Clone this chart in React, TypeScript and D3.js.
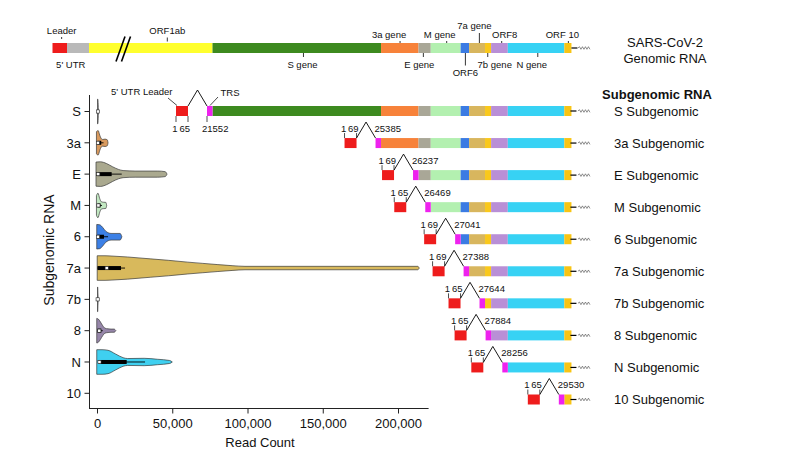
import React from "react";
import * as d3 from "d3";

// ---------------- Genome annotation (nucleotide coordinates) ----------------
const upstreamNames = ["Leader", "5' UTR", "ORF1ab"];
const upstreamStarts = [1, 66, 266];
const upstreamColors = ["#ee1c1c", "#b9b9b9", "#ffff2e"];

const geneNames = ["S", "3a", "E", "M", "ORF6", "7a", "7b", "ORF8", "N", "ORF10"];
const geneStarts = [21563, 25393, 26245, 26523, 27202, 27394, 27756, 27894, 28274, 29558];
const genomeEnd = 29720;
const geneColors = ["#3d8a1f", "#f7823a", "#a9a797", "#b3f0b0", "#3b7be3", "#d8b65e", "#f9c81c", "#b98fd6", "#37d2f4", "#f8c414"];
const trsColor = "#ee22ee";
const leaderColor = "#ee1c1c";

// genomic label annotations: text, anchor nt, side
const annotTexts = ["Leader", "5' UTR", "ORF1ab", "S gene", "3a gene", "E gene", "M gene", "7a gene", "ORF6", "7b gene", "ORF8", "N gene", "ORF 10"];
const annotAt = [42, 100, 13770, 23630, 25825, 26355, 26885, 27628, 27310, 27818, 28135, 28955, 29650];
const annotSide = ["up", "down", "up", "down", "up", "down", "up", "up", "down", "down", "up", "down", "up"];
const annotLevel = [0, 0, 0, 0, 1, 0, 1, 2, 1, 0, 1, 0, 1];
const annotDx = [0, 0, 0, -1, -11, -4, -7, -5, 0, 7, 3, -6, -6];
const annotTick = [true, false, true, true, true, true, true, true, true, true, true, true, true];
const annotTickGap = [4, 0, 1.5, 0, 0, 0, 0, 0, 0, 0, 0, 0, 0];

// ---------------- Subgenomic RNA rows ----------------
const subCategories = ["S", "3a", "E", "M", "6", "7a", "7b", "8", "N", "10"];
const subStartGene = [0, 1, 2, 3, 4, 5, 6, 7, 8, 9];
const subLeaderEnd = ["65", "69", "69", "65", "69", "69", "65", "65", "65", "65"];
const subTrsPos = ["21552", "25385", "26237", "26469", "27041", "27388", "27644", "27884", "28256", "29530"];

// ---------------- Violin data (read count vs relative density) ----------------
const violinCategories = ["S", "3a", "E", "M", "6", "7a", "7b", "8", "N", "10"];
const violinColors = ["#b0b0b0", "#d99a5e", "#aaa98f", "#c2e8c2", "#3c80e6", "#d8b95c", "#b0b0b0", "#9686a9", "#3fd0f0", "#b0b0b0"];
const violinProfiles: [number, number][][] = [
  [[0, 1.0], [250, 1.0], [450, 0.6], [650, 0]],
  [[-700, 0.9], [400, 1.0], [1500, 0.62], [2500, 0.34], [3500, 0.27], [5000, 0.3], [6500, 0.24], [7000, 0]],
  [[-1000, 0.98], [2000, 1.0], [6000, 0.86], [10000, 0.6], [14000, 0.38], [17000, 0.29], [25000, 0.25], [40000, 0.25], [45000, 0.2], [46200, 0]],
  [[-700, 0.8], [300, 1.0], [1500, 0.55], [2500, 0.3], [4000, 0.26], [5500, 0.25], [6100, 0]],
  [[-500, 1.0], [1500, 0.97], [3500, 0.75], [5500, 0.45], [7200, 0.32], [9000, 0.27], [15000, 0.27], [16200, 0]],
  [[-200, 1.0], [5000, 1.0], [9000, 0.98], [20000, 0.9], [35000, 0.75], [47000, 0.63], [60000, 0.48], [70000, 0.38], [80000, 0.28], [90000, 0.19], [98000, 0.14], [212800, 0.14], [213800, 0]],
  [[0, 1.0], [150, 1.0], [300, 0.5], [450, 0]],
  [[-500, 1.0], [500, 0.95], [2000, 0.7], [3500, 0.4], [5000, 0.2], [7000, 0.15], [9000, 0.13], [11000, 0.13], [12200, 0]],
  [[-500, 1.0], [3000, 1.0], [7000, 0.95], [12000, 0.65], [17000, 0.35], [20000, 0.28], [31000, 0.3], [40000, 0.22], [48000, 0.12], [49700, 0]],
  [],
];
const boxLow = [null, 0, 0, 0, 0, 0, null, 0, 500, null];
const boxHigh = [null, 2500, 9400, 2000, 4300, 15600, null, 2500, 19400, null];
const whiskerHigh = [null, 4000, 16100, 3000, 7000, 18300, null, 3500, 31600, null];
const medians = [300, 300, 500, 600, 300, 6100, 100, 1200, 1300, null];

const xTicks = [0, 50000, 100000, 150000, 200000];

const FONT = "'Liberation Sans', Arial, Helvetica, sans-serif";

function zigzag(x0: number, cy: number) {
  let d = `M${x0},${cy}`;
  for (let i = 1; i <= 8; i++) d += ` L${x0 + i * 1.5},${cy + (i % 2 ? -1.3 : 1.3)}`;
  return d;
}

export default function App() {
  const xG = d3.scaleLinear().domain([1, 66, 266, 21563, 29903]).range([52.5, 67, 89, 212.5, 579.5]);
  const genomeY = 48;
  const barH = 10;

  const xV = d3.scaleLinear().domain([0, 200000]).range([97.5, 398.5]);
  const axisEnd = xV(220000);
  const yV = d3.scalePoint<string>().domain(violinCategories).range([111.5, 393.3]);
  const maxHalf = 12.3;
  const yS = d3.scalePoint<string>().domain(subCategories).range([111, 399.5]);

  const allStarts = [...upstreamStarts, ...geneStarts];
  const allColors = [...upstreamColors, ...geneColors];
  const allEnds = [...allStarts.slice(1), genomeEnd];

  const tailX = xG(genomeEnd);
  const fmt = d3.format(",");

  return (
    <svg width={790} height={463} style={{ position: "absolute", left: 0, top: 0, background: "#fff" }} fontFamily={FONT}>
      {/* ---------- Genomic RNA ---------- */}
      <g>
        {allStarts.map((s, i) => (
          <rect key={i} x={xG(s)} y={genomeY - barH / 2} width={xG(allEnds[i]) - xG(s)} height={barH} fill={allColors[i]} />
        ))}
        <line x1={116} y1={61.5} x2={125} y2={36.5} stroke="#000" strokeWidth={1.6} />
        <line x1={121.5} y1={61.5} x2={130.5} y2={36.5} stroke="#000" strokeWidth={1.6} />
        <line x1={tailX} y1={genomeY} x2={tailX + 6} y2={genomeY} stroke="#000" strokeWidth={1.2} />
        <path d={zigzag(tailX + 6.5, genomeY)} fill="none" stroke="#444" strokeWidth={0.6} />
        {annotTexts.map((t, i) => {
          const tx = xG(annotAt[i]);
          const up = annotSide[i] === "up";
          const textY = up ? [33.5, 37.5, 29][annotLevel[i]] : [67.5, 76][annotLevel[i]];
          const tickEnd = up ? textY + 3 : textY - 9.5;
          const y1 = up ? genomeY - barH / 2 - annotTickGap[i] : genomeY + barH / 2;
          const y2 = up ? Math.min(tickEnd + 1, genomeY - 7 - annotTickGap[i]) : Math.max(tickEnd - 1, genomeY + 8);
          return (
            <g key={t}>
              {annotTick[i] && <line x1={tx} x2={tx} y1={y1} y2={y2} stroke="#000" strokeWidth={0.8} />}
              <text x={tx + annotDx[i]} y={textY} fontSize={9.5} textAnchor="middle" fill="#111">{t}</text>
            </g>
          );
        })}
        <text x={665} y={46.5} fontSize={13} textAnchor="middle" fill="#111">SARS-CoV-2</text>
        <text x={665} y={62.5} fontSize={13} textAnchor="middle" fill="#111">Genomic RNA</text>
      </g>

      {/* ---------- Subgenomic rows ---------- */}
      <text x={657} y={98.5} fontSize={13} fontWeight="bold" textAnchor="middle" fill="#111">Subgenomic RNA</text>
      {subCategories.map((c, r) => {
        const cy = yS(c)!;
        const gi = subStartGene[r];
        const gx = xG(geneStarts[gi]);
        const magL = gx - 5.5;
        const redR = magL - 19;
        const redL = redR - 12;
        const below = r === 0;
        const top = cy - barH / 2;
        const bot = cy + barH / 2;
        const segs = geneStarts.slice(gi).map((s, k) => {
          const idx = gi + k;
          const e = idx + 1 < geneStarts.length ? geneStarts[idx + 1] : genomeEnd;
          return <rect key={idx} x={xG(s)} y={top} width={xG(e) - xG(s)} height={barH} fill={geneColors[idx]} />;
        });
        const tickY1 = below ? bot : top;
        const tickY2 = below ? bot + 6 : top - 5;
        const lblY = below ? cy + 21 : cy - 11.5;
        return (
          <g key={c}>
            {segs}
            <rect x={redL} y={top} width={12} height={barH} fill={leaderColor} />
            <rect x={magL} y={top} width={gx - magL} height={barH} fill={trsColor} />
            <path d={`M${redR},${top} L${(redR + magL) / 2},${cy - 21} L${magL},${top}`} fill="none" stroke="#000" strokeWidth={0.9} />
            <line x1={redL} x2={redL} y1={tickY1} y2={tickY2} stroke="#000" strokeWidth={0.7} />
            <line x1={redR} x2={redR} y1={tickY1} y2={tickY2} stroke="#000" strokeWidth={0.7} />
            {below && <line x1={magL} x2={magL} y1={tickY1} y2={tickY2} stroke="#000" strokeWidth={0.7} />}
            <text x={redL - 1} y={lblY} fontSize={9.5} textAnchor="middle" fill="#111">1</text>
            <text x={redR + 2} y={lblY} fontSize={9.5} textAnchor="end" fill="#111">{subLeaderEnd[r]}</text>
            <text x={below ? magL - 5 : magL - 1} y={lblY} fontSize={9.5} textAnchor="start" fill="#111">{subTrsPos[r]}</text>
            <line x1={tailX - 1} y1={cy} x2={tailX + 5} y2={cy} stroke="#000" strokeWidth={1.2} />
            <path d={zigzag(tailX + 6.5, cy)} fill="none" stroke="#444" strokeWidth={0.6} />
            <text x={614} y={cy + 4.7} fontSize={13} fill="#111">{c} Subgenomic</text>
          </g>
        );
      })}
      <text x={172.5} y={94.5} fontSize={9.5} textAnchor="end" fill="#111">5' UTR Leader</text>
      <line x1={168} y1={98} x2={177} y2={105.5} stroke="#000" strokeWidth={0.7} />
      <text x={220.5} y={95.5} fontSize={9.5} fill="#111">TRS</text>
      <line x1={218} y1={97} x2={210} y2={105.5} stroke="#000" strokeWidth={0.7} />

      {/* ---------- Violin panel ---------- */}
      <g>
        {violinCategories.map((c, i) => {
          const cy = yV(c)!;
          const prof = violinProfiles[i];
          const area = d3
            .area<[number, number]>()
            .x((d) => xV(d[0]))
            .y0((d) => cy - d[1] * maxHalf)
            .y1((d) => cy + d[1] * maxHalf)
            .curve(d3.curveMonotoneX);
          return (
            <g key={c}>
              {prof.length > 0 && <path d={area(prof) || ""} fill={violinColors[i]} stroke="#3a3a3a" strokeWidth={0.7} />}
              {whiskerHigh[i] != null && (
                <line x1={xV(boxLow[i]!)} x2={xV(whiskerHigh[i]!)} y1={cy} y2={cy} stroke="#000" strokeWidth={0.9} />
              )}
              {boxLow[i] != null && (
                <rect x={xV(boxLow[i]!)} y={cy - 2} width={xV(boxHigh[i]!) - xV(boxLow[i]!)} height={4} fill="#000" />
              )}
              {medians[i] != null && (
                <rect x={xV(medians[i]!) - 1.6} y={cy - 1.6} width={3.2} height={3.2} fill="#fff" stroke="#222" strokeWidth={0.6} />
              )}
            </g>
          );
        })}
        <line x1={89.5} x2={89.5} y1={95} y2={408.5} stroke="#222" strokeWidth={1} />
        <line x1={89} x2={axisEnd} y1={408.5} y2={408.5} stroke="#222" strokeWidth={1} />
        {violinCategories.map((c) => (
          <g key={c}>
            <line x1={84.5} x2={89.5} y1={yV(c)} y2={yV(c)} stroke="#222" strokeWidth={1} />
            <text x={81} y={yV(c)! + 4.7} fontSize={13} textAnchor="end" fill="#111">{c}</text>
          </g>
        ))}
        {xTicks.map((t) => (
          <g key={t}>
            <line x1={xV(t)} x2={xV(t)} y1={408.5} y2={413.5} stroke="#222" strokeWidth={1} />
            <text x={xV(t)} y={427.5} fontSize={13} textAnchor="middle" fill="#111">{fmt(t)}</text>
          </g>
        ))}
        <text x={260} y={446.5} fontSize={13} textAnchor="middle" fill="#111">Read Count</text>
        <text transform="translate(53.5,250) rotate(-90)" fontSize={14} textAnchor="middle" fill="#111">Subgenomic RNA</text>
      </g>
    </svg>
  );
}
